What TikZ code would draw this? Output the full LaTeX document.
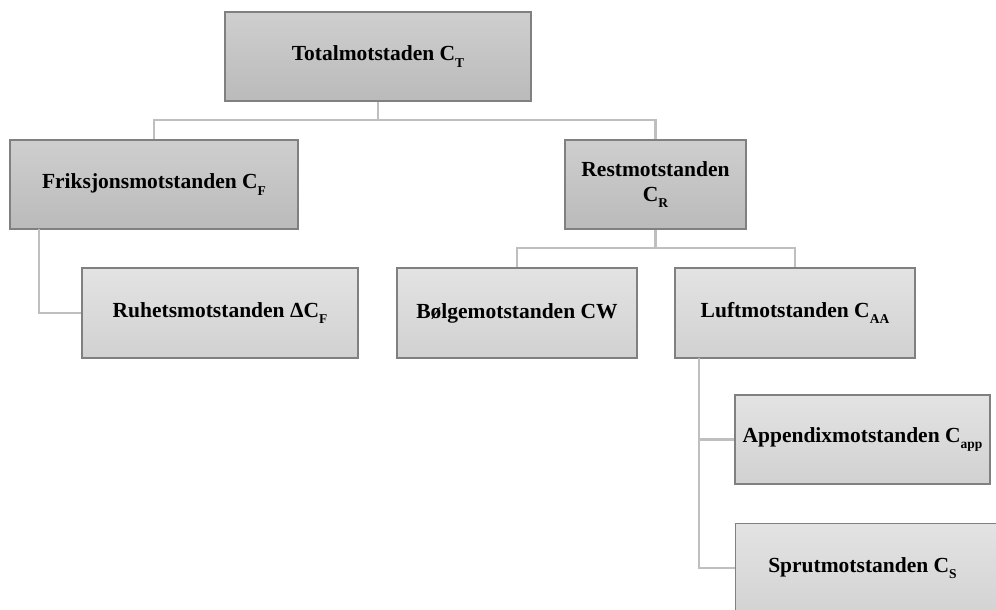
\documentclass[tikz,border=0pt]{standalone}
\usepackage{fontspec}
\setmainfont{Liberation Serif}
\usetikzlibrary{positioning}
\newcommand\subtx[1]{\raisebox{-0.3em}{\fontsize{13.5}{13.5}\selectfont #1}}
\tikzset{
  boxbase/.style={draw=black!50, line width=1.2pt, inner sep=0pt, align=center,
    font=\fontsize{21.5}{25}\selectfont\bfseries},
  topbox/.style={boxbase, top color=black!19, bottom color=black!27},
  lowbox/.style={boxbase, top color=black!11, bottom color=black!18},
  link/.style={draw=black!25, line width=2.2pt}
}
\begin{document}
\begin{tikzpicture}[x=1pt,y=-1pt]
\useasboundingbox (0,0) rectangle (996,610);
\clip (0,0) rectangle (996,610);
% boxes
\node[topbox, minimum width=306pt, minimum height=89pt] (tot) at (378,56.5) {Totalmotstaden C\subtx{T}};
\node[topbox, minimum width=288pt, minimum height=89pt] (fri) at (154,184.5) {Friksjonsmotstanden C\subtx{F}};
\node[topbox, minimum width=181pt, minimum height=89pt] (rest) at (655.5,184.5) {Restmotstanden\\C\subtx{R}};
\node[lowbox, minimum width=276pt, minimum height=90pt] (ruh) at (220,313) {Ruhetsmotstanden ΔC\subtx{F}};
\node[lowbox, minimum width=240pt, minimum height=90pt] (bol) at (517,313) {Bølgemotstanden CW};
\node[lowbox, minimum width=240pt, minimum height=90pt] (luf) at (795,313) {Luftmotstanden C\subtx{AA}};
\node[lowbox, minimum width=255pt, minimum height=89pt] (app) at (862.5,439.5) {Appendixmotstanden C\subtx{app}};
\node[lowbox, minimum width=270pt, minimum height=100pt, anchor=north west] (spr) at (735,523) {};
\node[font=\fontsize{21.5}{25}\selectfont\bfseries] (sprt) at (862.5,568) {Sprutmotstanden C\subtx{S}};
% connectors
\coordinate (tj) at (378,120);
\draw[link] (tot.south) -- (tj);
\draw[link] (fri.north) |- (tj) -| (rest.north);
\coordinate (rj) at (655.5,248);
\draw[link] (rest.south) -- (rj);
\draw[link] (bol.north) |- (rj) -| (luf.north);
\coordinate (fx) at (39,229);
\draw[link] (fx) |- (ruh.west);
\coordinate (lx) at (699,358);
\draw[link] (lx) |- (app.west);
\draw[link] (lx) |- (spr.west |- sprt.center);
\end{tikzpicture}
\end{document}
